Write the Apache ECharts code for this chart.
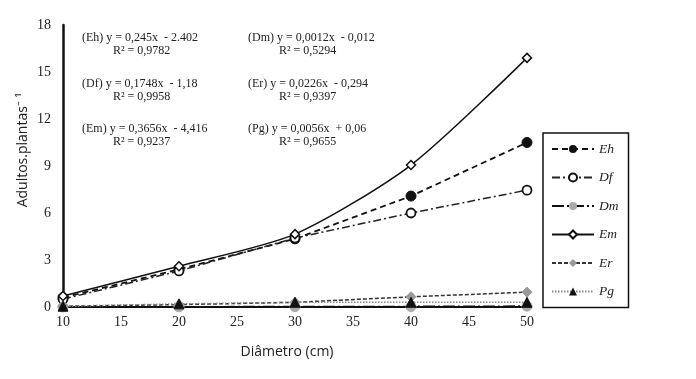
<!DOCTYPE html>
<html><head><meta charset="utf-8">
<script src="https://cdn.jsdelivr.net/npm/echarts@6/dist/echarts.min.js"></script>
<style>html,body{margin:0;padding:0;background:#fff}#c{width:696px;height:379px}</style>
</head><body><div id="c"></div>
<script>
const diametro = [10, 20, 30, 40, 50];
const Eh = [0.6, 2.4, 4.35, 7.08, 10.5];
const Df = [0.5, 2.3, 4.4, 6.0, 7.46];
const Dm = [0.0, 0.01, 0.02, 0.03, 0.05];
const Em = [0.7, 2.6, 4.65, 9.06, 15.9];
const Er = [0.05, 0.15, 0.3, 0.65, 0.95];
const Pg = [0.05, 0.2, 0.3, 0.3, 0.3];
const yTicks = [0, 3, 6, 9, 12, 15, 18];
const equations = [
  ['(Eh) y = 0,245x  - 2.402', 'R² = 0,9782'],
  ['(Dm) y = 0,0012x  - 0,012', 'R² = 0,5294'],
  ['(Df) y = 0,1748x  - 1,18', 'R² = 0,9958'],
  ['(Er) y = 0,0226x  - 0,294', 'R² = 0,9397'],
  ['(Em) y = 0,3656x  - 4,416', 'R² = 0,9237'],
  ['(Pg) y = 0,0056x  + 0,06', 'R² = 0,9655']
];

const pts = a => diametro.map((x, i) => [x, a[i]]);
const serif = 'Liberation Serif';
const chart = echarts.init(document.getElementById('c'));

const mk = (name, data, lineStyle, symbol, size, itemStyle, smooth) => ({
  name, type: 'line', data: pts(data), symbol, symbolSize: size, smooth: smooth || false,
  lineStyle, itemStyle, showSymbol: true, z: 3
});

const gr = [];
equations.forEach((e, i) => {
  const col = i % 2, row = Math.floor(i / 2);
  const x0 = col === 0 ? 82 : 248;
  const y0 = 32 + row * 45.5;
  gr.push({type: 'text', left: x0, top: y0, style: {text: e[0], font: '12px "' + serif + '"', fill: '#222'}});
  gr.push({type: 'text', left: x0 + 31, top: y0 + 13, style: {text: e[1], font: '12px "' + serif + '"', fill: '#222'}});
});
gr.push({type: 'text', x: 23, y: 150, rotation: Math.PI / 2,
  style: {text: 'Adultos.plantas⁻ ¹', font: '14px "Open Sans"', fill: '#222', align: 'center', verticalAlign: 'middle'}});
gr.push({type: 'text', x: 287, y: 352,
  style: {text: 'Diâmetro (cm)', font: '14px "Open Sans"', fill: '#222', align: 'center', verticalAlign: 'middle'}});

chart.setOption({
  animation: false,
  backgroundColor: '#fff',
  grid: {left: 63, right: 169, top: 25, bottom: 72},
  xAxis: {
    type: 'value', min: 10, max: 50, interval: 5,
    axisLine: {lineStyle: {color: '#111', width: 2}},
    axisTick: {show: false},
    splitLine: {show: false},
    axisLabel: {fontFamily: serif, fontSize: 14, color: '#222', margin: 8}
  },
  yAxis: {
    type: 'value', min: 0, max: 18, interval: 3,
    axisLine: {show: true, lineStyle: {color: '#111', width: 2.5}},
    axisTick: {show: false},
    splitLine: {show: false},
    axisLabel: {fontFamily: serif, fontSize: 14, color: '#222', margin: 12,
      formatter: v => yTicks.includes(v) ? String(v) : ''}
  },
  legend: {
    orient: 'vertical', left: 543, top: 133, width: 86,
    itemWidth: 42, itemHeight: 10, itemGap: 14.5,
    padding: [9, 10, 9, 8],
    borderColor: '#111', borderWidth: 1.5,
    textStyle: {fontFamily: serif, fontStyle: 'italic', fontSize: 13.5, color: '#222'},
    data: ['Eh', 'Df', 'Dm', 'Em', 'Er', 'Pg']
  },
  series: [
    mk('Eh', Eh, {color: '#111', width: 1.8, type: [6, 4]}, 'circle', 10, {color: '#111', borderColor: '#111'}),
    mk('Df', Df, {color: '#222', width: 1.5, type: [8, 3, 2, 3]}, 'circle', 9, {color: '#fff', borderColor: '#111', borderWidth: 1.8}),
    mk('Dm', Dm, {color: '#111', width: 1.8, type: [12, 3, 2, 3]}, 'circle', 10, {color: '#aaa', borderColor: '#aaa'}),
    mk('Em', Em, {color: '#111', width: 1.5, type: 'solid'}, 'diamond', 9, {color: '#fff', borderColor: '#111', borderWidth: 1.5}, 0.25),
    mk('Er', Er, {color: '#333', width: 1.5, type: [4, 2]}, 'diamond', 10, {color: '#999', borderColor: '#999'}),
    mk('Pg', Pg, {color: '#888', width: 1.5, type: [1.5, 1.5]}, 'triangle', 10, {color: '#111', borderColor: '#111'})
  ],
  graphic: gr
});
</script></body></html>
